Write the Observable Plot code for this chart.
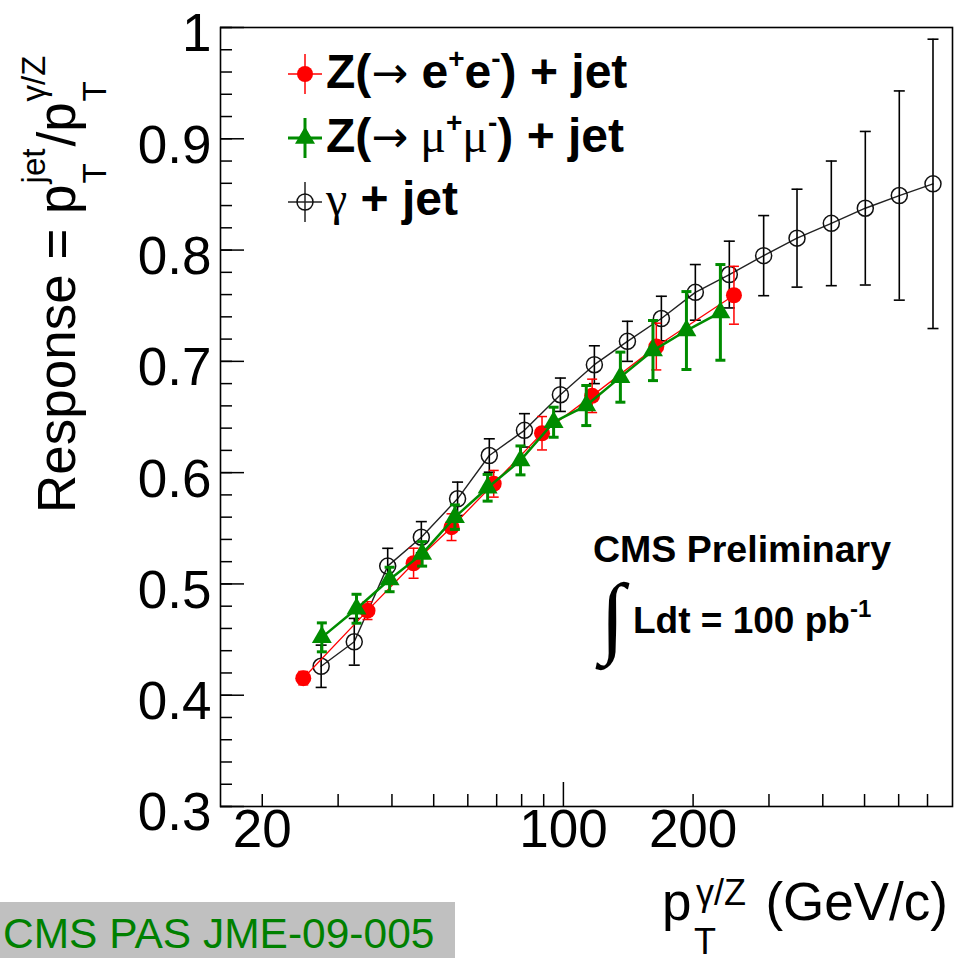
<!DOCTYPE html>
<html><head><meta charset="utf-8">
<script src="https://cdn.jsdelivr.net/npm/d3@7"></script>
<script src="https://cdn.jsdelivr.net/npm/@observablehq/plot@0.6"></script>
<style>
body{margin:0;background:#fff;}
#wrap{position:relative;width:955px;height:958px;overflow:hidden;background:#fff;}
</style></head><body>
<div id="wrap"></div>
<script>
// ---- data ----
const gammaPt  = [27.4, 32.7, 39.1, 46.8, 56.8, 67.3, 81.2, 98.4, 118, 140.8, 168.8, 202.4, 242.7, 291.6, 348.5, 418.6, 502, 602, 720.8];
const gammaR   = [0.426, 0.448, 0.516, 0.542, 0.5765, 0.6154, 0.638, 0.670, 0.697, 0.718, 0.7385, 0.762, 0.778, 0.795, 0.8107, 0.824, 0.8376, 0.849, 0.8595];
const gammaErr = [0.019, 0.021, 0.016, 0.014, 0.015, 0.015, 0.015, 0.015, 0.017, 0.018, 0.02, 0.025, 0.03, 0.036, 0.044, 0.056, 0.069, 0.094, 0.13];

const eePt  = [24.9, 35.1, 44.9, 55, 68.9, 89.2, 116.6, 164.3, 248.8];
const eeR   = [0.4153, 0.476, 0.5186, 0.551, 0.59, 0.6354, 0.669, 0.7133, 0.7594];
const eeErr = [0.006, 0.008, 0.0135, 0.012, 0.012, 0.015, 0.015, 0.021, 0.026];

const mmPt  = [27.5, 33.1, 39.5, 47, 56, 66.7, 79.5, 94.9, 113, 135.6, 161.4, 193, 231.4];
const mmR   = [0.452, 0.4777, 0.504, 0.527, 0.56, 0.5864, 0.611, 0.6453, 0.6603, 0.6858, 0.7097, 0.7277, 0.744];
const mmErr = [0.013, 0.013, 0.011, 0.011, 0.011, 0.012, 0.013, 0.0135, 0.018, 0.0225, 0.027, 0.035, 0.043];

const yMajorTicks = [0.3, 0.4, 0.5, 0.6, 0.7, 0.8, 0.9, 1.0];
const yMinorTicks = d3.range(15, 51).map(i => +(i * 0.02).toFixed(2));
const xMajorTicks = [100];
const xMinorTicks = [20, 30, 40, 50, 60, 70, 80, 90, 200, 300, 400, 500, 600, 700];
const xTickLabels = [20, 100, 200];

// ---- build tables ----
const toRows = (pt, r, e) => pt.map((p, i) => ({pt: p, r: r[i], e: e[i]}));
const gamma = toRows(gammaPt, gammaR, gammaErr);
const ee = toRows(eePt, eeR, eeErr);
const mm = toRows(mmPt, mmR, mmErr);

const RED = "#ff0000", GREEN = "#008c00", BLACK = "#000";
const cap = w => ({draw(ctx) { ctx.moveTo(-w / 2, 0); ctx.lineTo(w / 2, 0); }});
const FONT = "'Liberation Sans', Arial, Helvetica, sans-serif";

function errMarks(data, color, lw, capW) {
  return [
    Plot.ruleX(data, {x: "pt", y1: d => d.r - d.e, y2: d => d.r + d.e, stroke: color, strokeWidth: lw}),
    Plot.dot(data, {x: "pt", y: d => d.r + d.e, symbol: cap(capW), r: 5, stroke: color, strokeWidth: lw, fill: "none"}),
    Plot.dot(data, {x: "pt", y: d => d.r - d.e, symbol: cap(capW), r: 5, stroke: color, strokeWidth: lw, fill: "none"})
  ];
}

const chart = Plot.plot({
  width: 955,
  height: 958,
  marginLeft: 220,
  marginRight: 3,
  marginTop: 27,
  marginBottom: 152,
  style: {fontFamily: FONT, background: "#fff", color: "#000", overflow: "visible"},
  x: {type: "log", domain: [16, 800]},
  y: {type: "linear", domain: [0.3, 1.0]},
  marks: [
    // gamma + jet
    Plot.line(gamma, {x: "pt", y: "r", stroke: "#222", strokeWidth: 1.4}),
    ...errMarks(gamma, BLACK, 1.6, 11),
    Plot.dot(gamma, {x: "pt", y: "r", r: 8, stroke: "#111", strokeWidth: 1.5, fill: "none"}),
    // Z -> ee
    Plot.line(ee, {x: "pt", y: "r", stroke: RED, strokeWidth: 1.3}),
    ...errMarks(ee, RED, 1.5, 10),
    Plot.dot(ee, {x: "pt", y: "r", r: 8, fill: RED, stroke: "none"}),
    // Z -> mumu
    Plot.line(mm, {x: "pt", y: "r", stroke: GREEN, strokeWidth: 2.5}),
    ...errMarks(mm, GREEN, 3, 10),
    Plot.dot(mm, {x: "pt", y: "r", symbol: "triangle", r: 7.4, fill: GREEN, stroke: "none"}),
    // axes: inward ticks
    Plot.axisY(yMinorTicks, {tickSize: -12, fill: "none", stroke: BLACK, strokeWidth: 1.5, label: null}),
    Plot.axisY(yMajorTicks, {tickSize: -24, fill: "none", stroke: BLACK, strokeWidth: 1.5, label: null}),
    Plot.axisX(xMinorTicks, {tickSize: -12, fill: "none", stroke: BLACK, strokeWidth: 1.5, label: null}),
    Plot.axisX(xMajorTicks, {tickSize: -24, fill: "none", stroke: BLACK, strokeWidth: 1.5, label: null}),
    Plot.text(yMajorTicks, {y: d => d, frameAnchor: "left", dx: -9, dy: 7, textAnchor: "end",
      text: d => d === 1 ? "1" : d.toFixed(1), fontSize: 53, fill: BLACK}),
    Plot.text(xTickLabels, {x: d => d, frameAnchor: "bottom", dy: 40, textAnchor: "middle",
      text: d => String(d), fontSize: 53, fill: BLACK}),
    Plot.frame({stroke: BLACK, strokeWidth: 1.6})
  ]
});

document.getElementById("wrap").appendChild(chart);
const svg = d3.select(chart);
const ann = svg.append("g").attr("font-family", FONT).attr("fill", "#000").attr("text-anchor", "start");

function measure(text, size, weight) {
  const t = ann.append("text").attr("font-size", size).attr("font-weight", weight || "normal").text(text);
  const w = t.node().getComputedTextLength();
  t.remove();
  return w;
}

// ---- Y axis title (rotated) ----
{
  const g = ann.append("g").attr("transform", "translate(75,513) rotate(-90)");
  const big = 53, small = 33;
  const w1 = measure("Response = p", big);
  g.append("text").attr("x", 0).attr("y", 0).attr("font-size", big).text("Response = p");
  g.append("text").attr("x", w1 + 1).attr("y", 31).attr("font-size", small).text("T");
  g.append("text").attr("x", w1 + 1).attr("y", -30).attr("font-size", small).text("jet");
  const w2 = Math.max(measure("T", small), measure("jet", small));
  const x2 = w1 + w2 + 3;
  g.append("text").attr("x", x2).attr("y", 0).attr("font-size", big).text("/p");
  const w3 = measure("/p", big);
  g.append("text").attr("x", x2 + w3 + 1).attr("y", 31).attr("font-size", small).text("T");
  g.append("text").attr("x", x2 + w3 + 1).attr("y", -30).attr("font-size", small).text("γ/Z");
}

// ---- X axis title ----
{
  ann.append("text").attr("x", 948).attr("y", 920).attr("font-size", 53).attr("text-anchor", "end").text("(GeV/c)");
  ann.append("text").attr("x", 662).attr("y", 920).attr("font-size", 53).text("p");
  ann.append("text").attr("x", 694).attr("y", 954).attr("font-size", 36).text("T");
  ann.append("text").attr("x", 696).attr("y", 905).attr("font-size", 36).text("γ/Z");
}

// ---- Legend ----
{
  const lx = 305, tx = 326, fs = 48, sup = 28;
  const rows = [
    {cy: 74, base: 88, parts: [["Z(", "b"], ["→", "a"], [" e", "b"], ["+", "s"], ["e", "b"], ["-", "s"], [") + jet", "b"]]},
    {cy: 138, base: 152, parts: [["Z(", "b"], ["→", "a"], [" μ", "g"], ["+", "s"], ["μ", "g"], ["-", "s"], [") + jet", "b"]]},
    {cy: 202, base: 215, parts: [["γ", "g"], [" + jet", "b"]]}
  ];
  rows.forEach(row => {
    const t = ann.append("text").attr("x", tx).attr("y", row.base).attr("font-size", fs);
    let shifted = false;
    row.parts.forEach(([s, k]) => {
      const ts = t.append("tspan").text(s);
      if (k === "s") {
        ts.attr("font-size", sup).attr("font-weight", "bold").attr("dy", shifted ? 0 : -20);
        shifted = true;
      } else {
        ts.attr("font-weight", k === "b" ? "bold" : "normal");
        if (k === "a") ts.attr("font-family", "'DejaVu Sans', sans-serif").attr("font-size", 44);
        if (k === "g") ts.attr("font-family", "'Liberation Serif', serif");
        if (shifted) { ts.attr("dy", 20); shifted = false; }
      }
    });
  });
  // symbols
  const sym = ann.append("g");
  const cross = (cy, color, w) => {
    sym.append("line").attr("x1", lx - 17).attr("x2", lx + 17).attr("y1", cy).attr("y2", cy).attr("stroke", color).attr("stroke-width", w);
    sym.append("line").attr("x1", lx).attr("x2", lx).attr("y1", cy - 20).attr("y2", cy + 20).attr("stroke", color).attr("stroke-width", w);
  };
  cross(rows[0].cy, RED, 1.5);
  sym.append("circle").attr("cx", lx).attr("cy", rows[0].cy).attr("r", 8).attr("fill", RED);
  cross(rows[1].cy, GREEN, 3);
  sym.append("path").attr("transform", `translate(${lx},${rows[1].cy})`).attr("d", d3.symbol(d3.symbolTriangle, 173)()).attr("fill", GREEN);
  cross(rows[2].cy, "#222", 1.5);
  sym.append("circle").attr("cx", lx).attr("cy", rows[2].cy).attr("r", 8).attr("fill", "none").attr("stroke", "#111").attr("stroke-width", 1.5);
}

// ---- CMS labels ----
{
  ann.append("text").attr("x", 593).attr("y", 562).attr("font-size", 37.5).attr("font-weight", "bold").text("CMS Preliminary");
  ann.append("text").attr("x", 600).attr("y", 646).attr("font-size", 90).attr("font-family", "'Liberation Serif', serif").text("∫");
  const t = ann.append("text").attr("x", 633).attr("y", 633).attr("font-size", 37).attr("font-weight", "bold");
  t.append("tspan").text("Ldt = 100 pb");
  t.append("tspan").attr("font-size", 24).attr("dy", -16).text("-1");
}

// ---- Document tag ----
{
  ann.append("rect").attr("x", 0).attr("y", 902).attr("width", 455).attr("height", 56).attr("fill", "#c0c0c0");
  ann.append("text").attr("x", 3).attr("y", 948).attr("font-size", 42.5).attr("fill", "#008000").text("CMS PAS JME-09-005");
}
</script>
</body></html>
